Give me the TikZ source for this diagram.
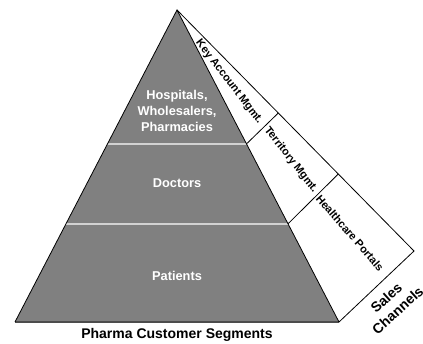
\documentclass[tikz,border=0pt]{standalone}
\usepackage{fontspec}
\setmainfont{Liberation Sans}
\begin{document}
\begin{tikzpicture}[x=1pt, y=-1pt]
    \tikzstyle{segment} = [text=white, font=\bfseries\fontsize{12.8}{16}\selectfont, align=center]
    \tikzstyle{channel} = [text=black, font=\bfseries\fontsize{11}{13}\selectfont, align=center, inner sep=0pt]
    \tikzstyle{caption} = [text=black, font=\bfseries\fontsize{14}{17}\selectfont, align=center]
    \tikzstyle{divider} = [draw=gray!35, line width=1.4pt]
    \tikzstyle{edge} = [draw=black, line width=0.8pt]
    \useasboundingbox (0,0) rectangle (423,344);

    % pyramid corners and band corners
    \coordinate (apex) at (177,10);
    \coordinate (bl) at (15,322);
    \coordinate (br) at (339,322);
    \coordinate (outer) at (414,251);
    \coordinate (l1) at (107.6,144);
    \coordinate (r1) at (246.4,144);
    \coordinate (l2) at (66.2,224);
    \coordinate (r2) at (287.8,224);
    \coordinate (o1) at (278.3,113);
    \coordinate (o2) at (338.3,174);

    % pyramid
    \fill [gray] (apex) -- (bl) -- (br) -- cycle;
    \draw [divider] (l1) -- (r1);
    \draw [divider] (l2) -- (r2);
    \draw [draw=black!70, line width=2pt] (bl) -- (br);
    \draw [edge] (bl) -- (apex) -- (br);

    % sales channel band
    \draw [edge] (apex) -- (outer) -- (br);
    \draw [edge] (r1) -- (o1);
    \draw [edge] (r2) -- (o2);

    \node (hospitals) [segment] at (177,111) {Hospitals,\\Wholesalers,\\Pharmacies};
    \node (doctors) [segment] at (177,183) {Doctors};
    \node (patients) [segment] at (177,276) {Patients};

    \node (keyacc) [channel, rotate=-52.5] at (229,82) {Key Account Mgmt.};
    \node (territory) [channel, rotate=-52] at (291,160) {Territory Mgmt.};
    \node (portals) [channel, rotate=-49] at (350,233) {Healthcare Portals};

    \node (channels) [caption, rotate=42, inner sep=0pt] at (392,304) {Sales\\Channels};
    \node (segments) [caption] at (177,335) {Pharma Customer Segments};
\end{tikzpicture}
\end{document}
